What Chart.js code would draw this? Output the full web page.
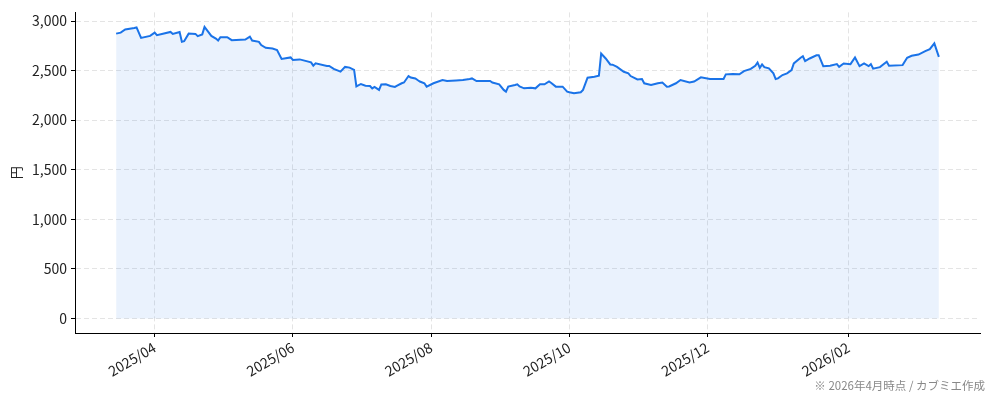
<!DOCTYPE html>
<html lang="ja">
<head>
<meta charset="utf-8">
<script src="https://cdn.jsdelivr.net/npm/chart.js@4.4.1/dist/chart.umd.min.js"></script>
<style>
  html, body { margin: 0; padding: 0; background: #fff; }
  #wrap { width: 994px; height: 401px; position: relative; }
</style>
</head>
<body>
<div id="wrap"><canvas id="priceChart"></canvas></div>
<script>
// price history
const dates = [
  "2025-03-15","2025-03-17","2025-03-19","2025-03-23","2025-03-24","2025-03-26","2025-03-30",
  "2025-04-01","2025-04-02","2025-04-08","2025-04-09","2025-04-12","2025-04-13","2025-04-14",
  "2025-04-16","2025-04-19","2025-04-20","2025-04-22","2025-04-23","2025-04-26","2025-04-28",
  "2025-04-29","2025-04-30","2025-05-03","2025-05-05","2025-05-11","2025-05-13","2025-05-14",
  "2025-05-17","2025-05-18","2025-05-20","2025-05-23","2025-05-25","2025-05-27","2025-05-31",
  "2025-06-01","2025-06-04","2025-06-09","2025-06-10","2025-06-11","2025-06-16","2025-06-17",
  "2025-06-19","2025-06-22","2025-06-24","2025-06-26","2025-06-28","2025-06-29","2025-07-01",
  "2025-07-03","2025-07-05","2025-07-06","2025-07-07","2025-07-09","2025-07-10","2025-07-12",
  "2025-07-14","2025-07-16","2025-07-17","2025-07-19","2025-07-20","2025-07-22","2025-07-23",
  "2025-07-25","2025-07-26","2025-07-27","2025-07-29","2025-07-30","2025-08-02","2025-08-06",
  "2025-08-08","2025-08-12","2025-08-15","2025-08-18","2025-08-19","2025-08-21","2025-08-27",
  "2025-08-28","2025-08-31","2025-09-02","2025-09-03","2025-09-04","2025-09-07","2025-09-08",
  "2025-09-09","2025-09-11","2025-09-14","2025-09-16","2025-09-18","2025-09-20","2025-09-22",
  "2025-09-23","2025-09-25","2025-09-28","2025-09-30","2025-10-01","2025-10-03","2025-10-06",
  "2025-10-07","2025-10-09","2025-10-12","2025-10-14","2025-10-15","2025-10-17","2025-10-19",
  "2025-10-20","2025-10-22","2025-10-25","2025-10-27","2025-10-28","2025-10-31","2025-11-02",
  "2025-11-03","2025-11-06","2025-11-09","2025-11-11","2025-11-13","2025-11-14","2025-11-17",
  "2025-11-19","2025-11-23","2025-11-25","2025-11-28","2025-12-02","2025-12-08","2025-12-09",
  "2025-12-12","2025-12-15","2025-12-17","2025-12-20","2025-12-22","2025-12-23","2025-12-24",
  "2025-12-25","2025-12-26","2025-12-28","2025-12-30","2025-12-31","2026-01-01","2026-01-03",
  "2026-01-05","2026-01-07","2026-01-08","2026-01-11","2026-01-12","2026-01-13","2026-01-15",
  "2026-01-18","2026-01-19","2026-01-21","2026-01-24","2026-01-27","2026-01-28","2026-01-30",
  "2026-02-02","2026-02-04","2026-02-06","2026-02-08","2026-02-10","2026-02-11","2026-02-12",
  "2026-02-15","2026-02-18","2026-02-19","2026-02-25","2026-02-27","2026-03-01","2026-03-04",
  "2026-03-07","2026-03-09","2026-03-11","2026-03-13"
];
const prices = [
  2873, 2883, 2915, 2930, 2935, 2830, 2850,
  2883, 2857, 2890, 2870, 2890, 2790, 2797,
  2873, 2870, 2847, 2865, 2940, 2850, 2823,
  2803, 2837, 2837, 2807, 2813, 2843, 2803,
  2790, 2757, 2730, 2723, 2707, 2617, 2633,
  2607, 2613, 2583, 2550, 2573, 2547, 2547,
  2517, 2490, 2537, 2530, 2507, 2340, 2365,
  2348, 2345, 2320, 2335, 2305, 2360, 2362,
  2345, 2335, 2348, 2372, 2380, 2445, 2430,
  2421, 2405, 2390, 2372, 2338, 2372, 2405,
  2395, 2400, 2405, 2415, 2421, 2395, 2395,
  2380, 2361, 2305, 2288, 2338, 2355, 2362,
  2340, 2321, 2328, 2321, 2362, 2362, 2390,
  2375, 2338, 2338, 2288, 2281, 2271, 2281,
  2305, 2428, 2438, 2448, 2672, 2622, 2562,
  2560, 2538, 2488, 2472, 2445, 2411, 2415,
  2372, 2355, 2372, 2380, 2338, 2340, 2372,
  2405, 2381, 2390, 2432, 2415, 2415, 2462,
  2465, 2462, 2495, 2517, 2549, 2582, 2528,
  2562, 2535, 2522, 2472, 2415, 2421, 2455,
  2472, 2505, 2572, 2629, 2645, 2595, 2622,
  2655, 2655, 2545, 2550, 2565, 2538, 2572,
  2565, 2632, 2545, 2572, 2545, 2565, 2520,
  2535, 2589, 2549, 2555, 2629, 2649, 2662,
  2696, 2716, 2775, 2639
];
const monthTicks = ["2025-04-01","2025-06-01","2025-08-01","2025-10-01","2025-12-01","2026-02-01"];
const yTicks = [0, 500, 1000, 1500, 2000, 2500, 3000];
const footNote = "※ 2026年4月時点 / カブミエ作成";

const toDay = s => Date.UTC(+s.slice(0, 4), +s.slice(5, 7) - 1, +s.slice(8, 10)) / 86400000;
const fmtMonth = v => {
  const d = new Date(Math.round(v) * 86400000);
  return `${d.getUTCFullYear()}/${String(d.getUTCMonth() + 1).padStart(2, "0")}`;
};

const points = dates.map((d, i) => ({ x: toDay(d), y: prices[i] }));
const xFirst = points[0].x, xLast = points[points.length - 1].x;
const xPad = (xLast - xFirst) * 0.05;
const yTop = Math.max(...prices);
const yPad = yTop * 0.05;

const FONT = '"Noto Sans CJK JP", "Noto Sans", sans-serif';
Chart.defaults.font.family = FONT;
Chart.defaults.color = "#222";

const footNotePlugin = {
  id: "footNote",
  afterDraw(chart) {
    const ctx = chart.ctx;
    ctx.save();
    ctx.font = `11.5px ${FONT}`;
    ctx.fillStyle = "#888";
    ctx.textAlign = "right";
    ctx.textBaseline = "middle";
    ctx.fillText(footNote, 985, 386);
    ctx.restore();
  }
};

new Chart(document.getElementById("priceChart"), {
  type: "line",
  data: {
    datasets: [{
      label: "株価",
      data: points,
      borderColor: "#1a73e8",
      borderWidth: 2,
      backgroundColor: "rgba(26, 115, 232, 0.09)",
      fill: "origin",
      pointRadius: 0,
      tension: 0
    }]
  },
  options: {
    responsive: true,
    maintainAspectRatio: false,
    animation: false,
    layout: { padding: { top: 10, right: 14, left: 0, bottom: 0 } },
    plugins: {
      legend: { display: false },
      tooltip: { enabled: false }
    },
    scales: {
      x: {
        type: "linear",
        min: xFirst - xPad,
        max: xLast + xPad,
        afterBuildTicks: scale => { scale.ticks = monthTicks.map(d => ({ value: toDay(d) })); },
        afterFit: scale => { scale.height = 68; },
        ticks: {
          callback: v => fmtMonth(v),
          minRotation: 30,
          maxRotation: 30,
          padding: 2,
          font: { size: 14 },
          color: "#222"
        },
        grid: { color: "#e4e4e4", tickColor: "#000", tickLength: 4, lineWidth: 1 },
        border: { display: true, color: "#000", width: 1, dash: [5, 3] }
      },
      y: {
        min: -yPad,
        max: yTop + yPad,
        afterBuildTicks: scale => { scale.ticks = yTicks.map(v => ({ value: v })); },
        afterFit: scale => { scale.width = 75; },
        ticks: {
          callback: v => v.toLocaleString("en-US"),
          padding: 4,
          font: { size: 14 },
          color: "#222"
        },
        grid: { color: "#e4e4e4", tickColor: "#000", tickLength: 4, lineWidth: 1 },
        border: { display: true, color: "#000", width: 1, dash: [5, 3] },
        title: { display: true, text: "円", font: { size: 13 }, color: "#222", padding: { top: 8, bottom: 4 } }
      }
    }
  },
  plugins: [footNotePlugin]
});
</script>
</body>
</html>
